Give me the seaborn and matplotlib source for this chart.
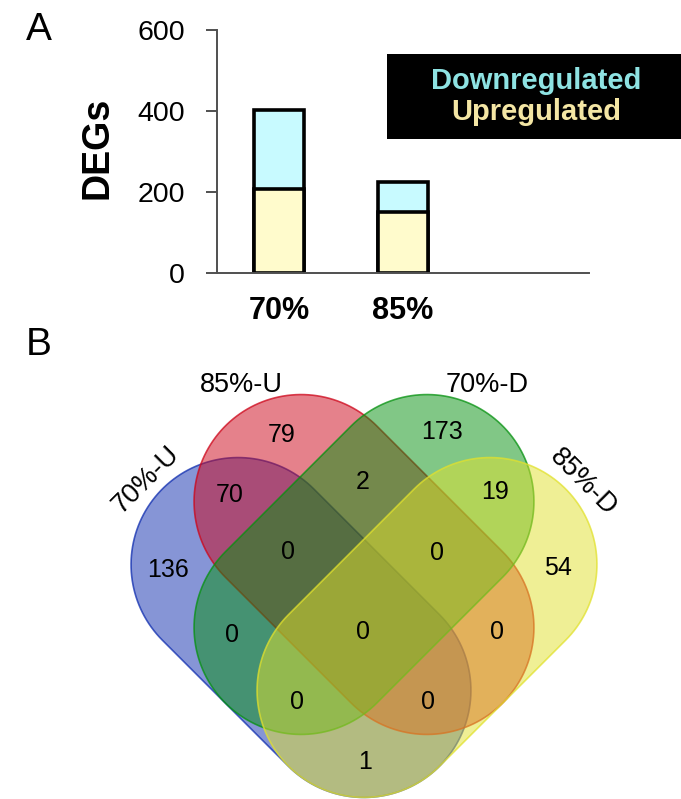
import numpy as np
import pandas as pd
import matplotlib
matplotlib.use("Agg")
import matplotlib.pyplot as plt
import seaborn as sns
from matplotlib.patches import Polygon, Rectangle

# ---------------- data ----------------
categories = ["70%", "85%"]
upregulated = [207, 151]
downregulated = [195, 74]
y_ticks = [0, 200, 400, 600]
legend_labels = ["Downregulated", "Upregulated"]

venn_sets = ["70%-U", "85%-U", "70%-D", "85%-D"]
# region key: membership in (70%-U, 85%-U, 70%-D, 85%-D)
venn_regions = ["1000", "0100", "0010", "0001", "1100", "0110", "0011",
                "1010", "0101", "1001", "1110", "0111", "1011", "1101", "1111"]
venn_counts = [136, 79, 173, 54, 70, 2, 19, 0, 0, 1, 0, 0, 0, 0, 0]

# ---------------- style ----------------
sns.set_theme(style="ticks")
plt.rcParams["font.family"] = ["Liberation Sans", "DejaVu Sans"]
plt.rcParams["text.color"] = "black"
plt.rcParams["axes.labelcolor"] = "black"
plt.rcParams["xtick.labelcolor"] = "black"
plt.rcParams["ytick.labelcolor"] = "black"

W, H = 681, 799
fig = plt.figure(figsize=(W / 100, H / 100), dpi=100)

# ---------------- panel A: stacked bars ----------------
ax = fig.add_axes([217 / W, 1 - 273.3 / H, (589 - 217) / W, (273.3 - 30) / H])
df = pd.DataFrame({"condition": categories, "up": upregulated, "down": downregulated})
df["total"] = df["up"] + df["down"]

col_down = "#C8FAFF"
col_up = "#FFFBCC"
sns.barplot(data=df, x="condition", y="total", color=col_down, saturation=1,
            edgecolor="black", linewidth=2.6, width=0.4, ax=ax)
sns.barplot(data=df, x="condition", y="up", color=col_up, saturation=1,
            edgecolor="black", linewidth=2.6, width=0.4, ax=ax)

ax.set_xlim(-0.5, 2.5)
ax.set_ylim(0, 600)
ax.set_yticks(y_ticks)
ax.set_yticklabels([str(v) for v in y_ticks])
ax.set_xlabel("")
ax.set_ylabel("DEGs", fontsize=27, fontweight="bold", color="black")
ax.yaxis.label.set_va("center")
ax.yaxis.set_label_coords(-0.32, 0.517)
sns.despine(ax=ax)
spine_col = "#505050"
for s in ["left", "bottom"]:
    ax.spines[s].set_color(spine_col)
    ax.spines[s].set_linewidth(1.4)
ax.tick_params(axis="y", length=8, width=1.4, color=spine_col, pad=15,
               labelsize=20.5, labelcolor="black")
ax.tick_params(axis="x", length=0, pad=16, labelsize=22, labelcolor="black")
for t in ax.get_xticklabels():
    t.set_fontweight("bold")
ax.set_facecolor("none")

# ---------------- overlay axes in pixel coordinates ----------------
ov = fig.add_axes([0, 0, 1, 1])
ov.set_xlim(0, W)
ov.set_ylim(H, 0)
ov.axis("off")

ov.text(39, 30, "A", fontsize=28, ha="center", va="center", color="black")
ov.text(39, 345, "B", fontsize=28, ha="center", va="center", color="black")

# legend box
ov.add_patch(Rectangle((387, 54), W - 387, 85, facecolor="black", edgecolor="none", zorder=5))
ov.text(536, 81, legend_labels[0], color="#8EE3E3", fontsize=21, fontweight="bold",
        ha="center", va="center", zorder=6)
ov.text(536, 112, legend_labels[1], color="#F4E6A4", fontsize=21, fontweight="bold",
        ha="center", va="center", zorder=6)

# ---------------- panel B: 4-set Venn (capsule shapes) ----------------
def stadium(cx, cy, theta_deg, L, r, n=80, **kw):
    th = np.deg2rad(theta_deg)
    ux, uy = np.cos(th), np.sin(th)
    c1 = (cx + L * ux, cy + L * uy)
    c2 = (cx - L * ux, cy - L * uy)
    a1 = np.linspace(th - np.pi / 2, th + np.pi / 2, n)
    a2 = np.linspace(th + np.pi / 2, th + 3 * np.pi / 2, n)
    pts = np.vstack([
        np.column_stack([c1[0] + r * np.cos(a1), c1[1] + r * np.sin(a1)]),
        np.column_stack([c2[0] + r * np.cos(a2), c2[1] + r * np.sin(a2)]),
    ])
    return Polygon(pts, closed=True, **kw)

O = (364, 564.5)
Lh, R, sh = 89, 107, 63
shape_geom = {
    "70%-U": (O[0] - sh, O[1] + sh, 45),
    "85%-U": (O[0], O[1], 45),
    "70%-D": (O[0], O[1], -45),
    "85%-D": (O[0] + sh, O[1] + sh, -45),
}
shape_cols = {
    "70%-U": (15, 45, 175),
    "85%-U": (205, 5, 25),
    "70%-D": (5, 145, 15),
    "85%-D": (225, 225, 45),
}
for name in venn_sets:
    cx, cy, th = shape_geom[name]
    rgb = np.array(shape_cols[name]) / 255
    ov.add_patch(stadium(cx, cy, th, Lh, R, facecolor=(*rgb, 0.5),
                         edgecolor=(*rgb, 0.75), linewidth=1.2, zorder=2))

set_label_pos = {
    "70%-U": (146, 480, 45),
    "85%-U": (241, 385, 0),
    "70%-D": (487, 385, 0),
    "85%-D": (583, 482, -45),
}
for name in venn_sets:
    x, y, rot = set_label_pos[name]
    ov.text(x, y, name, fontsize=19.5, rotation=rot, ha="center", va="center",
            rotation_mode="anchor", zorder=4, color="black")

region_pos = {
    "1000": (168, 570), "0100": (282, 435), "0010": (442, 432), "0001": (558, 568),
    "1100": (230, 495), "0110": (363, 482), "0011": (495, 492),
    "1010": (232, 635), "0101": (497, 632), "1001": (365, 762),
    "1110": (288, 552), "0111": (437, 553), "1011": (297, 702), "1101": (428, 702),
    "1111": (363, 632),
}
for key, cnt in zip(venn_regions, venn_counts):
    x, y = region_pos[key]
    ov.text(x, y, str(cnt), fontsize=18, ha="center", va="center", zorder=4, color="black")

fig.savefig("out.png", dpi=100, facecolor="white")
